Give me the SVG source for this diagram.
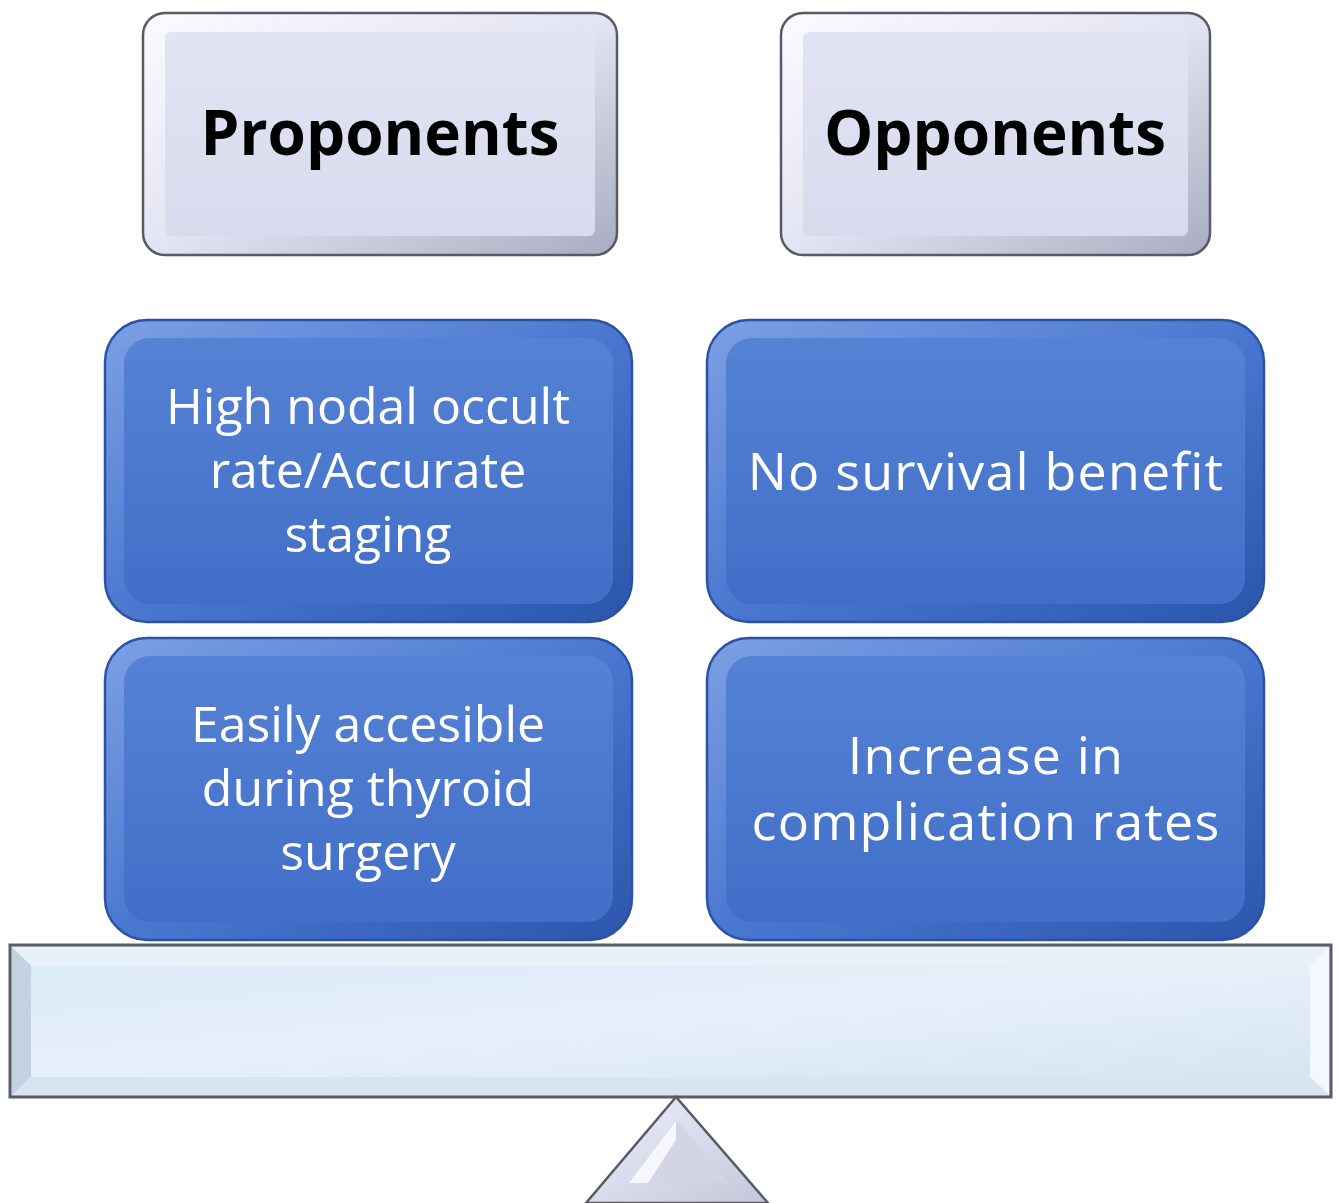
<svg xmlns="http://www.w3.org/2000/svg" width="1339" height="1203" viewBox="0 0 1339 1203">
<defs>
<linearGradient id="hdrBevel" x1="0" y1="0" x2="1" y2="1">
<stop offset="0" stop-color="#fbfbff"/><stop offset="0.5" stop-color="#e2e4f2"/><stop offset="1" stop-color="#a9abc0"/>
</linearGradient>
<linearGradient id="hdrFace" x1="0" y1="0" x2="0" y2="1">
<stop offset="0" stop-color="#e2e4f3"/><stop offset="1" stop-color="#d8dbee"/>
</linearGradient>
<linearGradient id="blueBevel" x1="0" y1="0" x2="1" y2="1">
<stop offset="0" stop-color="#7da0e4"/><stop offset="0.5" stop-color="#4a78d0"/><stop offset="1" stop-color="#2a55ab"/>
</linearGradient>
<linearGradient id="blueFace" x1="0" y1="0" x2="0" y2="1">
<stop offset="0" stop-color="#5582d4"/><stop offset="1" stop-color="#416fc8"/>
</linearGradient>
<linearGradient id="plankFace" x1="0" y1="0" x2="1" y2="1">
<stop offset="0" stop-color="#dce9f6"/><stop offset="0.5" stop-color="#e6f0fa"/><stop offset="1" stop-color="#d6e4f3"/>
</linearGradient>
<linearGradient id="triFace" x1="0" y1="0" x2="1" y2="1">
<stop offset="0" stop-color="#eef0fa"/><stop offset="1" stop-color="#c4c7da"/>
</linearGradient>
</defs>
<style>
.hdrOuter{fill:url(#hdrBevel);stroke:#5a5a66;stroke-width:2.5}
.hdrInner{fill:url(#hdrFace)}
.hdrText{font-family:"Open Sans","Liberation Sans",sans-serif;font-weight:700;font-size:62px;fill:#000;text-anchor:middle}
.bOuter{fill:url(#blueBevel);stroke:#2b52a3;stroke-width:2.5}
.bInner{fill:url(#blueFace)}
.bText{font-family:"Open Sans","Liberation Sans",sans-serif;font-size:50px;fill:#fff;text-anchor:middle}
.bTextR{font-family:"Open Sans","Liberation Sans",sans-serif;font-size:52px;letter-spacing:1.2px;fill:#fff;text-anchor:middle}
</style>
<rect width="1339" height="1203" fill="#ffffff"/>
<g id="connectors"></g>
<g id="proponents">
<rect class="hdrOuter" x="143" y="13" width="474" height="242" rx="22"/>
<rect class="hdrInner" x="165" y="32" width="430" height="204" rx="6"/>
<text class="hdrText" x="380" y="155">Proponents</text>
</g>
<g id="opponents">
<rect class="hdrOuter" x="781" y="13" width="429" height="242" rx="22"/>
<rect class="hdrInner" x="803" y="32" width="385" height="204" rx="6"/>
<text class="hdrText" x="995" y="155">Opponents</text>
</g>
<g id="pro1">
<rect class="bOuter" x="105" y="320" width="527" height="302" rx="42"/>
<rect class="bInner" x="124" y="338" width="489" height="266" rx="26"/>
<text class="bText" x="368" y="424">High nodal occult</text>
<text class="bText" x="368" y="488">rate/Accurate</text>
<text class="bText" x="368" y="552">staging</text>
</g>
<g id="pro2">
<rect class="bOuter" x="105" y="638" width="527" height="302" rx="42"/>
<rect class="bInner" x="124" y="656" width="489" height="266" rx="26"/>
<text class="bText" x="368" y="742">Easily accesible</text>
<text class="bText" x="368" y="806">during thyroid</text>
<text class="bText" x="368" y="870">surgery</text>
</g>
<g id="opp1">
<rect class="bOuter" x="707" y="320" width="557" height="302" rx="42"/>
<rect class="bInner" x="726" y="338" width="519" height="266" rx="26"/>
<text class="bTextR" x="986" y="490">No survival benefit</text>
</g>
<g id="opp2">
<rect class="bOuter" x="707" y="638" width="557" height="302" rx="42"/>
<rect class="bInner" x="726" y="656" width="519" height="266" rx="26"/>
<text class="bTextR" x="986" y="774">Increase in</text>
<text class="bTextR" x="986" y="840">complication rates</text>
</g>
<g id="plank">
<rect x="10" y="945" width="1321" height="152" fill="#d2e0ef" stroke="#5c5c66" stroke-width="3"/>
<polygon points="12,947 1329,947 1310,966 31,966" fill="#e8f0f8"/>
<polygon points="12,947 31,966 31,1077 12,1095" fill="#c2d2e2"/>
<polygon points="1329,947 1329,1095 1310,1077 1310,966" fill="#f4f8fc"/>
<polygon points="12,1095 31,1077 1310,1077 1329,1095" fill="#d8e4f0"/>
<rect x="31" y="966" width="1279" height="111" fill="url(#plankFace)"/>
</g>
<g id="fulcrum">
<polygon points="676,1097 586,1203 768,1203" fill="url(#triFace)" stroke="#5a5a66" stroke-width="2.5"/>
<polygon points="677,1121 629,1183 729,1183" fill="#d3d5e6"/>
<polygon points="676,1121 629,1183 648,1183 676,1140" fill="#f6f7fd"/>
</g>
</svg>
